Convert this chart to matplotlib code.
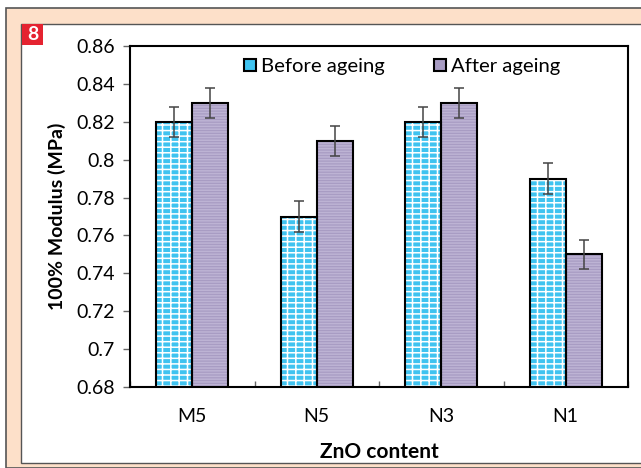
import numpy as np
import matplotlib.pyplot as plt
from matplotlib.patches import Rectangle, Patch
from matplotlib.ticker import FuncFormatter, FixedLocator

plt.rcParams['font.family'] = ['Lato', 'DejaVu Sans']
plt.rcParams['hatch.linewidth'] = 1.1

# data
categories = ['M5', 'N5', 'N3', 'N1']
before = [0.82, 0.77, 0.82, 0.79]
after = [0.83, 0.81, 0.83, 0.75]
before_err = [0.008, 0.008, 0.008, 0.008]
after_err = [0.008, 0.008, 0.008, 0.0075]
yticks = [0.68, 0.70, 0.72, 0.74, 0.76, 0.78, 0.80, 0.82, 0.84, 0.86]

W, H = 641, 468
fig = plt.figure(figsize=(W / 100, H / 100), dpi=100)

# page decoration: peach frame, white panel, red figure number
fig.patches.append(Rectangle((6 / W, 0), 1, 1 - 8 / H, transform=fig.transFigure,
                             facecolor='#fde0c9', edgecolor='#555555', linewidth=1.2, zorder=-3))
fig.patches.append(Rectangle((21 / W, 1 - 463 / H), 1, (463 - 24) / H, transform=fig.transFigure,
                             facecolor='white', edgecolor='#555555', linewidth=1.0, zorder=-2))
fig.patches.append(Rectangle((22 / W, 1 - 45 / H), 21 / W, 21 / H, transform=fig.transFigure,
                             facecolor='#e52330', edgecolor='none', zorder=-1))
fig.text(32.5 / W, 1 - 34.5 / H, '8', color='white', fontsize=14, fontweight='bold',
         ha='center', va='center')

ax = fig.add_axes([130 / W, 1 - 387 / H, (628 - 130) / W, (387 - 46) / H])

x = np.arange(len(categories))
bw = 0.29
cyan = '#3fc3f0'
lav = '#a89cc3'

# hatched fills (hatch colour = edgecolor), then black outlines on top
ax.bar(x - bw / 2, before, bw, color=cyan, edgecolor='white', hatch='---||', linewidth=0, zorder=2)
ax.bar(x + bw / 2, after, bw, color=lav, edgecolor='#bdb3d4', hatch='------', linewidth=0, zorder=2)
ax.bar(x - bw / 2, before, bw, fill=False, edgecolor='black', linewidth=1.5, zorder=3)
ax.bar(x + bw / 2, after, bw, fill=False, edgecolor='black', linewidth=1.5, zorder=3)

ax.errorbar(x - bw / 2, before, yerr=before_err, fmt='none', ecolor='#444444',
            elinewidth=1.1, capsize=3.6, capthick=1.1, zorder=4)
ax.errorbar(x + bw / 2, after, yerr=after_err, fmt='none', ecolor='#444444',
            elinewidth=1.1, capsize=3.6, capthick=1.1, zorder=4)

ax.set_xlim(-0.5, len(categories) - 0.5)
ax.set_ylim(0.68, 0.86)
ax.set_yticks(yticks)
ax.yaxis.set_major_formatter(FuncFormatter(lambda v, p: f'{v:g}'))
ax.tick_params(axis='y', direction='out', length=5, width=1, color='#666666',
               labelsize=14, pad=6)
ax.set_xticks(x)
ax.set_xticklabels(categories)
ax.tick_params(axis='x', which='major', length=0, labelsize=14, pad=15)
ax.xaxis.set_minor_locator(FixedLocator(np.arange(-0.5, len(categories), 1.0)))
ax.tick_params(axis='x', which='minor', direction='in', length=4, width=1, color='#666666')
for s in ax.spines.values():
    s.set_linewidth(1.5)
    s.set_color('black')

ax.set_ylabel('100% Modulus (MPa)', fontsize=14, fontweight='bold', labelpad=7)
ax.set_xlabel('ZnO content', fontsize=15, fontweight='bold', labelpad=12)

handles = [Patch(facecolor=cyan, edgecolor='black', linewidth=1.5),
           Patch(facecolor=lav, edgecolor='black', linewidth=1.5)]
ax.legend(handles, ['Before ageing', 'After ageing'], ncol=2, frameon=False,
          loc='upper left', bbox_to_anchor=(0.205, 1.0), fontsize=14.6,
          handlelength=0.6, handleheight=0.6, handletextpad=0.25, columnspacing=2.4,
          borderaxespad=0.2)

fig.savefig('out.png', dpi=100)
